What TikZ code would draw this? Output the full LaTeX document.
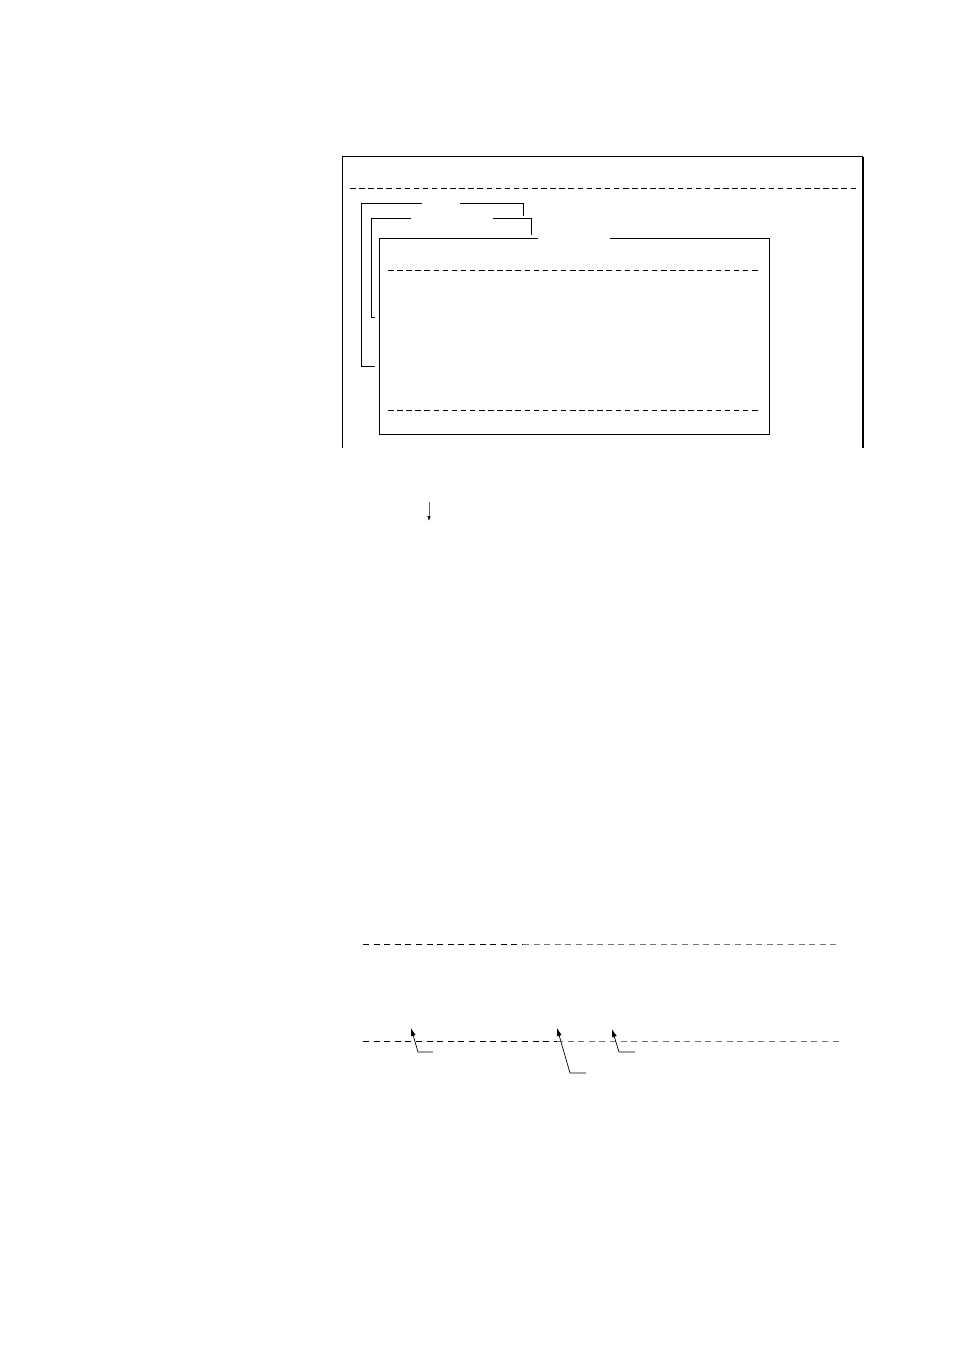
\documentclass[tikz,border=0pt]{standalone}
\usepackage{tikz}
\usetikzlibrary{arrows.meta, positioning}

\begin{document}
\begin{tikzpicture}[x=1pt, y=-1pt,
    frame/.style={line width=1pt},
    bracket/.style={line width=0.9pt},
    sep line/.style={line width=0.8pt, dash pattern=on 5.5pt off 3.6pt},
    faint line/.style={sep line, draw=black!55},
    pointer/.style={line width=0.7pt, -{Latex[length=8pt, width=5pt]}}]
    \useasboundingbox (0,0) rectangle (954,1351);
    % outer window, open at the bottom
    \coordinate (outer bl) at (342,448);
    \coordinate (outer tl) at (342,157);
    \coordinate (outer tr) at (863,157);
    \coordinate (outer br) at (863,448);
    \draw[frame] (outer bl) -- (outer tl) -- (outer tr);
    \draw[line width=1.6pt] (outer tr) -- (outer br);
    \draw[sep line] (350,188) -- (857,188);
    % inner window with a gap in its top edge
    \coordinate (inner tl) at (379,238);
    \coordinate (inner br) at (769,434);
    \draw[frame] (538,238) -- (inner tl) -- (inner tl |- inner br) -- (inner br) -- (inner br |- inner tl) -- (610,238);
    \draw[sep line] (388,270) -- (759,270);
    \draw[sep line] (388,410) -- (759,410);
    % brackets
    \draw[bracket] (375,366) -- (361,366) -- (361,203) -- (422,203);
    \draw[bracket] (460,203) -- (523,203) -- (523,216);
    \draw[bracket] (375,317) -- (371,317) -- (371,218) -- (411,218);
    \draw[bracket] (493,218) -- (531,218) -- (531,235);
    % small arrow below
    \coordinate (down start) at (429,502);
    \coordinate (down end) at (429,521);
    \draw[line width=0.6pt, draw=black!60, -{Latex[length=5pt, width=3.5pt, black]}] (down start) -- (down end);
    % lower dashed lines
    \draw[sep line, dash pattern=on 6pt off 4.6pt] (363,944) -- (523,944);
    \draw[faint line, dash pattern=on 6pt off 4.6pt] (523,944) -- (840,944);
    \draw[sep line, dash pattern=on 6pt off 4.6pt] (363,1041) -- (557,1041);
    \draw[faint line, dash pattern=on 6pt off 4.6pt] (557,1041) -- (840,1041);
    % leaders
    \coordinate (tip a) at (411,1028);
    \coordinate (tip b) at (557,1028);
    \coordinate (tip c) at (612,1029);
    \coordinate (bend a) at (418,1052);
    \coordinate (bend b) at (570,1073);
    \coordinate (bend c) at (619,1052);
    \draw[pointer] (433,1052) -- (bend a) -- (tip a);
    \draw[pointer] (586,1073) -- (bend b) -- (tip b);
    \draw[pointer] (635,1052) -- (bend c) -- (tip c);
\end{tikzpicture}
\end{document}
